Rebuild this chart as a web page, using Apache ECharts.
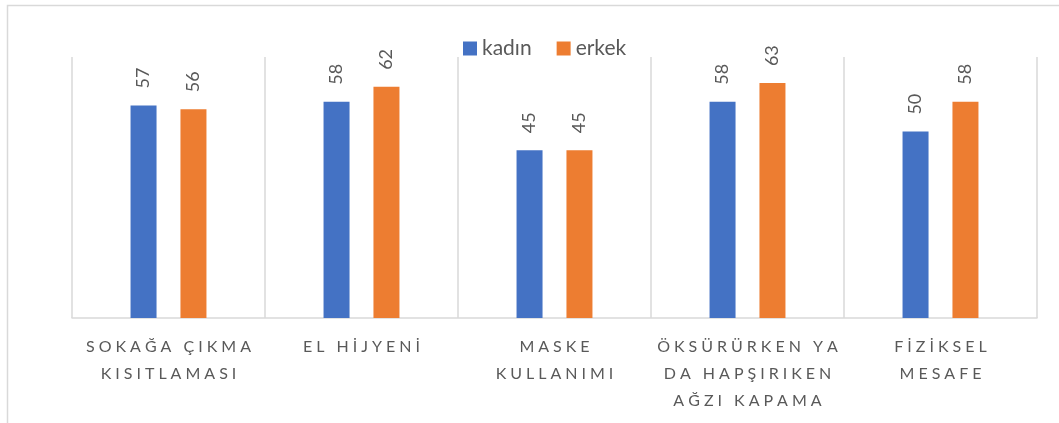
<!DOCTYPE html>
<html>
<head>
<meta charset="utf-8">
<script src="https://cdn.jsdelivr.net/npm/echarts@6/dist/echarts.min.js"></script>
<style>
html,body{margin:0;padding:0;background:#fff;}
#chart{width:1059px;height:423px;}
</style>
</head>
<body>
<div id="chart"></div>
<script>
const categories = ["SOKAĞA ÇIKMA\nKISITLAMASI", "EL HİJYENİ", "MASKE\nKULLANIMI", "ÖKSÜRÜRKEN YA\nDA HAPŞIRIKEN\nAĞZI KAPAMA", "FİZİKSEL\nMESAFE"];
const seriesNames = ["kadın", "erkek"];
const kadin = [57, 58, 45, 58, 50];
const erkek = [56, 62, 45, 63, 58];

const FONT = "Lato, 'Open Sans', 'Noto Sans', sans-serif";
const GREY = '#595959';

function spaced(txt) {
  return txt.split('\n').map(line => Array.from(line).join('\u2005')).join('\n');
}

const barLabel = {
  show: true,
  position: 'top',
  rotate: 90,
  align: 'left',
  verticalAlign: 'middle',
  distance: 17,
  color: GREY,
  fontFamily: FONT,
  fontSize: 18
};

const chart = echarts.init(document.getElementById('chart'), null, {renderer: 'canvas'});
chart.setOption({
  animation: false,
  backgroundColor: '#fff',
  graphic: [{
    type: 'rect',
    shape: {x: 7.5, y: 5.5, width: 1200, height: 600},
    style: {fill: 'none', stroke: '#d9d9d9', lineWidth: 1.5},
    silent: true
  }],
  legend: {
    data: seriesNames,
    left: 458,
    top: 33,
    itemWidth: 14,
    itemHeight: 14,
    itemGap: 25,
    icon: 'rect',
    textStyle: {color: GREY, fontFamily: FONT, fontSize: 21}
  },
  grid: {left: 72, right: 22, top: 57, bottom: 105, containLabel: false},
  xAxis: {
    type: 'category',
    data: categories,
    axisLine: {show: true, lineStyle: {color: '#d9d9d9', width: 1.5}},
    axisTick: {show: false},
    splitLine: {show: true, lineStyle: {color: '#d9d9d9', width: 1.5}},
    axisLabel: {
      interval: 0,
      color: GREY,
      fontFamily: FONT,
      fontSize: 16,
      lineHeight: 27,
      margin: 15,
      formatter: v => spaced(v)
    }
  },
  yAxis: {
    type: 'value',
    min: 0,
    max: 70,
    interval: 10,
    show: false,
    splitLine: {show: false}
  },
  series: [
    {name: seriesNames[0], type: 'bar', data: kadin, barWidth: 26, barGap: '92%', itemStyle: {color: '#4472C4'}, label: barLabel},
    {name: seriesNames[1], type: 'bar', data: erkek, barWidth: 26, barGap: '92%', itemStyle: {color: '#ED7D31'}, label: barLabel}
  ]
});
</script>
</body>
</html>
